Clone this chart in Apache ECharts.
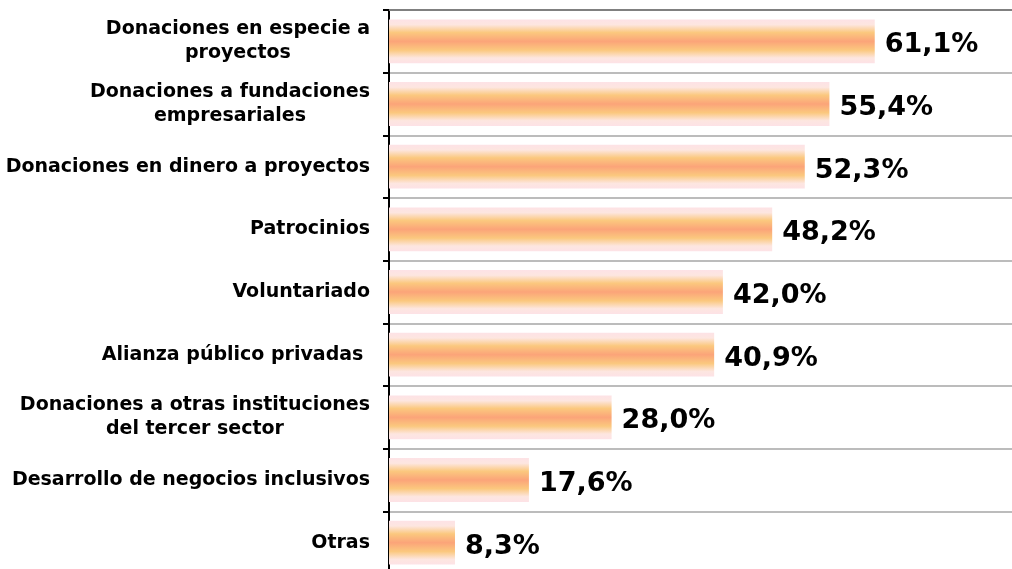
<!DOCTYPE html>
<html>
<head>
<meta charset="utf-8">
<script src="https://cdn.jsdelivr.net/npm/echarts@6/dist/echarts.min.js"></script>
<style>
  html, body { margin: 0; padding: 0; background: #fff; }
  #chart { width: 1012px; height: 569px; }
</style>
</head>
<body>
<div id="chart"></div>
<script>
// categorias, de arriba a abajo
const categories = [
  'Donaciones en especie a\nproyectos',
  'Donaciones a fundaciones\nempresariales',
  'Donaciones en dinero a proyectos',
  'Patrocinios',
  'Voluntariado',
  'Alianza público privadas ',
  'Donaciones a otras instituciones\ndel tercer sector',
  'Desarrollo de negocios inclusivos',
  'Otras'
];
const values = [61.1, 55.4, 52.3, 48.2, 42.0, 40.9, 28.0, 17.6, 8.3];

const chart = echarts.init(document.getElementById('chart'));

const barFill = new echarts.graphic.LinearGradient(0, 0, 0, 1, [
  { offset: 0, color: '#fde2e6' },
  { offset: 0.12, color: '#fde6e0' },
  { offset: 0.3, color: '#fbc87e' },
  { offset: 0.5, color: '#fba479' },
  { offset: 0.7, color: '#fbc87e' },
  { offset: 0.88, color: '#fde6e0' },
  { offset: 1, color: '#fde2e6' }
]);

chart.setOption({
  animation: false,
  grid: { left: 389, top: 10, width: 636, height: 564, outerBoundsMode: 'none' },
  xAxis: {
    type: 'value',
    position: 'top',
    min: 0,
    max: 80,
    axisLine: { show: true, lineStyle: { color: '#808080', width: 2 } },
    axisTick: { show: false },
    axisLabel: { show: false },
    splitLine: { show: false }
  },
  yAxis: {
    type: 'category',
    inverse: true,
    data: categories,
    axisLine: { show: true, lineStyle: { color: '#000', width: 2 } },
    axisTick: { show: true, length: 6, lineStyle: { color: '#000', width: 2 } },
    splitLine: { show: true, lineStyle: { color: '#a6a6a6', width: 1.5 } },
    axisLabel: {
      margin: 19,
      color: '#000',
      fontFamily: 'DejaVu Sans',
      fontWeight: 'bold',
      fontSize: 19,
      lineHeight: 24,
      formatter: v => v.split('\n').map(s => '{c|' + s + '}').join('\n'),
      rich: {
        c: {
          align: 'center',
          color: '#000',
          fontFamily: 'DejaVu Sans',
          fontWeight: 'bold',
          fontSize: 19,
          lineHeight: 24
        }
      }
    }
  },
  series: [{
    type: 'bar',
    data: values,
    barCategoryGap: '30%',
    itemStyle: { color: barFill },
    label: {
      show: true,
      position: 'right',
      distance: 10,
      offset: [0, 4],
      color: '#000',
      fontFamily: 'DejaVu Sans',
      fontWeight: 'bold',
      fontSize: 27,
      formatter: p => p.value.toFixed(1).replace('.', ',') + '%'
    }
  }]
});
</script>
</body>
</html>
